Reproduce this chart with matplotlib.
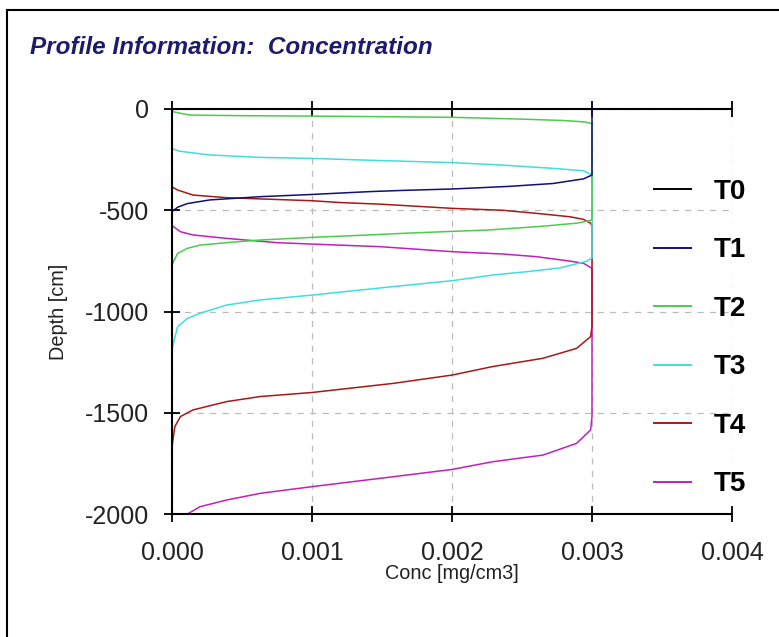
import matplotlib
matplotlib.use("Agg")
import matplotlib.pyplot as plt
from matplotlib.lines import Line2D

plt.rcParams['font.family'] = ['Liberation Sans', 'DejaVu Sans']
plt.rcParams['axes.unicode_minus'] = False

# ---- data (conc in mg/cm3, depth in cm) ----
labels = ["T0", "T1", "T2", "T3", "T4", "T5"]
colors = ["#000000", "#101078", "#4ccc4c", "#40dede", "#a81818", "#c020c0"]

t0_conc = [0.0, 0.0]
t0_depth = [0, -2000]

t1_conc = [0.003, 0.003, 0.00294, 0.00272, 0.00241, 0.00213, 0.00200, 0.00165,
           0.00141, 0.00100, 0.00063, 0.00027, 0.00011, 0.00004, 0.0, 0.0]
t1_depth = [0, -326, -345, -368, -382, -391, -395, -402,
            -408, -422, -433, -449, -467, -485, -507, -2000]

t2_conc = [0.0, 0.0, 0.00005, 0.00013, 0.0005, 0.001, 0.0015, 0.002, 0.0025,
           0.0028, 0.00295, 0.003, 0.003, 0.00299, 0.00289, 0.00261, 0.00225,
           0.00201, 0.00165, 0.00141, 0.001, 0.00063, 0.00039, 0.0002, 0.00011,
           0.00004, 0.00001, 0.0, 0.0]
t2_depth = [0, -12, -20, -30, -33, -35, -38, -41, -50,
            -57, -64, -72, -545, -550, -564, -581, -598,
            -604, -614, -622, -634, -647, -660, -672, -688,
            -713, -755, -770, -2000]

t3_conc = [0.0, 0.0, 0.00005, 0.00027, 0.00063, 0.001, 0.00141, 0.00201,
           0.00236, 0.00272, 0.00294, 0.003, 0.003, 0.00296, 0.00277, 0.00254,
           0.00229, 0.002, 0.00158, 0.001, 0.00063, 0.00039, 0.0002, 0.00011,
           0.00004, 0.00001, 0.0, 0.0]
t3_depth = [0, -195, -208, -227, -239, -244, -253, -265,
            -277, -293, -305, -326, -736, -752, -785, -803,
            -820, -848, -877, -919, -943, -968, -1009, -1034,
            -1075, -1157, -1185, -2000]

t4_conc = [0.0, 0.0, 0.00004, 0.00015, 0.00039, 0.00063, 0.001, 0.0012,
           0.00149, 0.00201, 0.00236, 0.0026, 0.00284, 0.00294, 0.00299, 0.003,
           0.003, 0.00299, 0.00289, 0.00265, 0.00229, 0.002, 0.00158, 0.001,
           0.00063, 0.00039, 0.00015, 0.00006, 0.00002, 0.0, 0.0]
t4_depth = [0, -385, -400, -425, -438, -444, -453, -462,
            -470, -491, -500, -515, -532, -545, -564, -578,
            -1075, -1124, -1182, -1231, -1272, -1314, -1355, -1400,
            -1420, -1445, -1486, -1519, -1569, -1668, -2000]

t5_conc = [0.0, 0.0, 0.00001, 0.00006, 0.00015, 0.00039, 0.00075, 0.001,
           0.00149, 0.00201, 0.00236, 0.0026, 0.00284, 0.00294, 0.003, 0.003,
           0.00299, 0.00289, 0.00265, 0.00229, 0.002, 0.00158, 0.001, 0.00063,
           0.00039, 0.0002, 0.00011]
t5_depth = [0, -575, -581, -606, -622, -639, -660, -667,
            -680, -705, -716, -729, -751, -762, -787, -1519,
            -1585, -1651, -1709, -1742, -1780, -1816, -1865, -1898,
            -1931, -1964, -2000]

series_conc = [t0_conc, t1_conc, t2_conc, t3_conc, t4_conc, t5_conc]
series_depth = [t0_depth, t1_depth, t2_depth, t3_depth, t4_depth, t5_depth]

x_ticks = [0.000, 0.001, 0.002, 0.003, 0.004]
y_ticks = [0, -500, -1000, -1500, -2000]

# ---- figure ----
W, H = 779, 637
fig = plt.figure(figsize=(W / 100, H / 100), dpi=100)
fig.patch.set_facecolor("white")

ax = fig.add_axes([172 / W, 1 - 514 / H, (732 - 172) / W, (514 - 109) / H])

handles = []
n = len(labels)
for i in range(n):
    (ln,) = ax.plot(series_conc[i], series_depth[i], color=colors[i], lw=1.1,
                    zorder=3 + (n - i) * 0.1, label=labels[i], clip_on=True)
    handles.append(ln)

ax.set_xlim(0, 0.004)
ax.set_ylim(-2000, 0)
ax.set_xticks(x_ticks)
ax.set_yticks(y_ticks)
ax.set_xticklabels([f"{v:.3f}" for v in x_ticks])
ax.set_yticklabels([f"{v:d}" for v in y_ticks])

ax.grid(True, color="#bcbcbc", linestyle=(0, (5, 5)), lw=0.9, zorder=1)

for side in ["left", "top", "bottom"]:
    ax.spines[side].set_linewidth(1.5)
    ax.spines[side].set_color("black")
    ax.spines[side].set_zorder(10)
ax.spines["right"].set_visible(False)

ax.tick_params(axis="both", direction="inout", length=11, width=1.3,
               labelsize=18, colors="black", labelcolor="#222222")
ax.tick_params(axis="x", top=True, bottom=True, labeltop=False, pad=14)
ax.tick_params(axis="y", left=True, right=False, pad=11)

ax.set_xlabel("Conc [mg/cm3]", fontsize=14.3, color="#222222")
ax.set_ylabel("Depth [cm]", fontsize=14.3, color="#222222")
ax.xaxis.set_label_coords(0.5, (514 - 564) / 405)
ax.yaxis.set_label_coords((68 - 172) / 560, 0.5)

leg = ax.legend(handles=handles, labels=labels, loc="upper left",
                bbox_to_anchor=(640 / W, 1 - 165 / H), bbox_transform=fig.transFigure,
                frameon=False, handlelength=1.35, handletextpad=0.8,
                labelspacing=1.17, borderpad=0,
                prop={"weight": "bold", "size": 20})
for lh in leg.get_lines():
    lh.set_linewidth(1.4)
leg.set_zorder(20)

fig.text(30 / W, 1 - 47 / H, "Profile Information:  Concentration",
         fontsize=17.5, fontweight="bold", fontstyle="italic", color="#1c1c6c",
         va="center", ha="left")

# outer frame (top and left edges visible)
fig.add_artist(Line2D([7 / W, 7 / W], [0, 1 - 10 / H], transform=fig.transFigure,
                      color="black", lw=1.5))
fig.add_artist(Line2D([7 / W, 1], [1 - 10 / H, 1 - 10 / H], transform=fig.transFigure,
                      color="black", lw=1.5))

fig.savefig("out.png", dpi=100, facecolor="white")
